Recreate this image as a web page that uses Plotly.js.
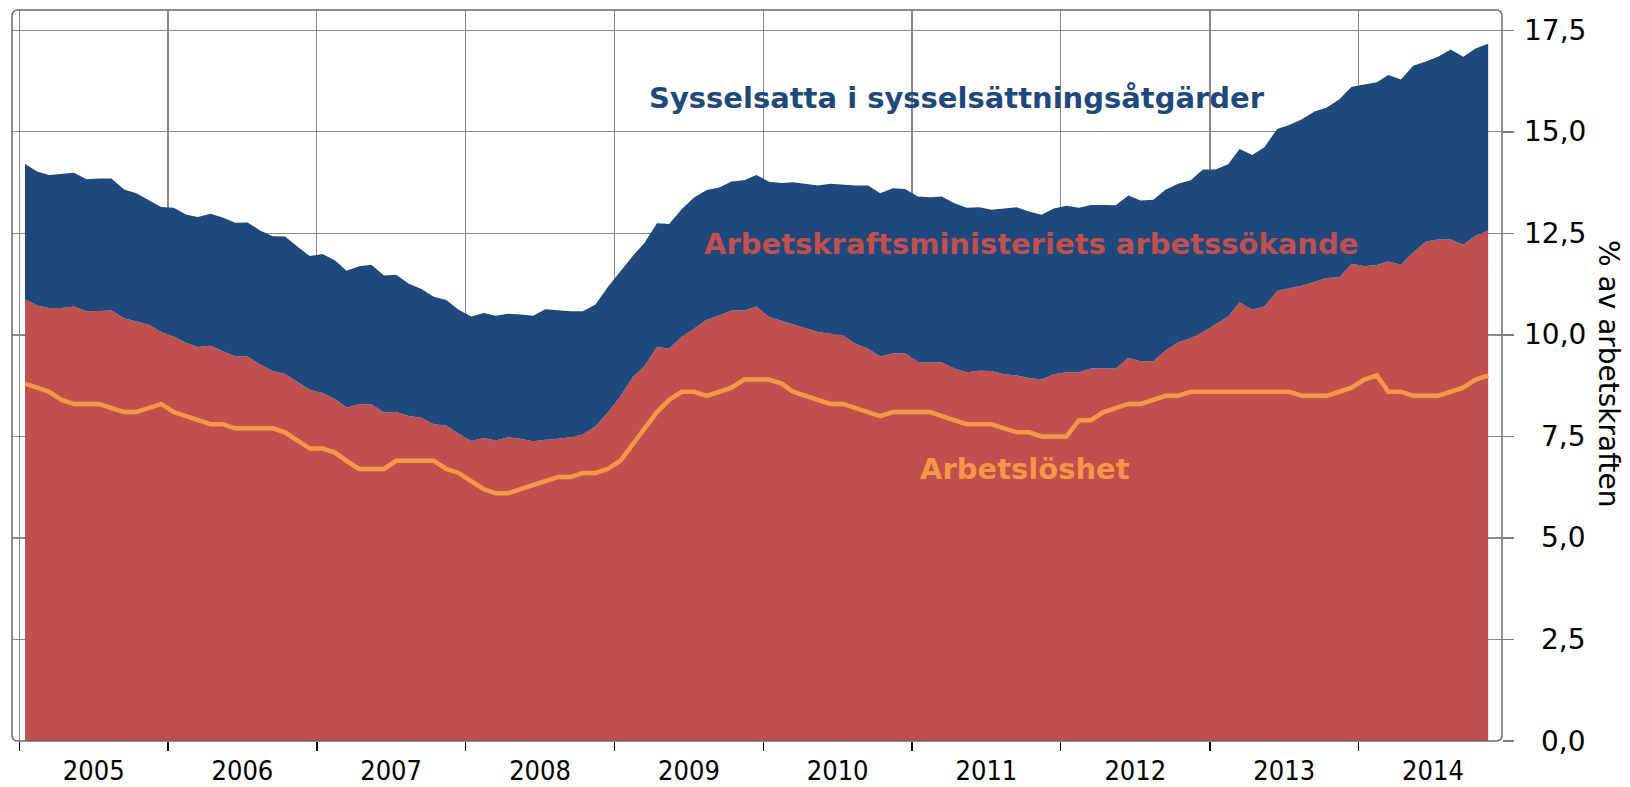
<!DOCTYPE html>
<html>
<head>
<meta charset="utf-8">
<script src="https://cdn.plot.ly/plotly-3.0.1.min.js"></script>
<style>
  html, body { margin: 0; padding: 0; background: #ffffff; }
  #chart { width: 1630px; height: 787px; }
</style>
</head>
<body>
<div id="chart"></div>
<script>
// Monthly observations, January 2005 - November 2014 (% of the labour force)
const startYear = 2005;

// Top of blue area: Arbetssökande + sysselsatta i sysselsättningsåtgärder
const sysselsatta = [
  14.21, 14.02, 13.94, 13.96, 13.99, 13.83, 13.85, 13.85, 13.58, 13.49, 13.32, 13.15,
  13.13, 12.96, 12.90, 12.98, 12.89, 12.76, 12.77, 12.57, 12.43, 12.42, 12.17, 11.94,
  11.99, 11.83, 11.58, 11.69, 11.73, 11.46, 11.48, 11.26, 11.13, 10.94, 10.86, 10.62,
  10.45, 10.54, 10.47, 10.52, 10.50, 10.47, 10.63, 10.60, 10.58, 10.58, 10.75, 11.17,
  11.55, 11.95, 12.26, 12.75, 12.73, 13.10, 13.38, 13.57, 13.63, 13.78, 13.81, 13.94,
  13.77, 13.74, 13.76, 13.72, 13.68, 13.72, 13.70, 13.68, 13.68, 13.49, 13.61, 13.59,
  13.41, 13.39, 13.41, 13.24, 13.13, 13.14, 13.08, 13.11, 13.14, 13.04, 12.96, 13.11,
  13.18, 13.13, 13.20, 13.20, 13.19, 13.43, 13.31, 13.33, 13.58, 13.72, 13.81, 14.07,
  14.07, 14.20, 14.58, 14.43, 14.62, 15.07, 15.17, 15.31, 15.50, 15.60, 15.80, 16.11,
  16.17, 16.22, 16.40, 16.29, 16.63, 16.73, 16.85, 17.03, 16.85, 17.05, 17.17
];

// Top of red area: Arbetskraftsministeriets arbetssökande
const arbetssokande = [
  10.87, 10.72, 10.66, 10.66, 10.70, 10.58, 10.59, 10.60, 10.41, 10.33, 10.25, 10.07,
   9.96,  9.80,  9.70,  9.73,  9.60,  9.47,  9.47,  9.27,  9.11,  9.04,  8.84,  8.65,
   8.57,  8.42,  8.21,  8.29,  8.29,  8.09,  8.10,  8.00,  7.96,  7.80,  7.77,  7.57,
   7.39,  7.46,  7.40,  7.48,  7.44,  7.38,  7.42,  7.44,  7.48,  7.55,  7.75,  8.08,
   8.48,  8.96,  9.23,  9.70,  9.66,  9.96, 10.15, 10.37, 10.48, 10.60, 10.60, 10.70,
  10.44, 10.34, 10.26, 10.15, 10.07, 10.03,  9.99,  9.78,  9.66,  9.47,  9.54,  9.55,
   9.33,  9.32,  9.32,  9.17,  9.08,  9.12,  9.11,  9.03,  9.00,  8.94,  8.90,  9.03,
   9.08,  9.08,  9.17,  9.18,  9.17,  9.43,  9.35,  9.35,  9.62,  9.82,  9.92, 10.07,
  10.27, 10.45, 10.80, 10.62, 10.70, 11.08, 11.15, 11.21, 11.31, 11.40, 11.42, 11.75,
  11.69, 11.72, 11.81, 11.73, 12.03, 12.30, 12.35, 12.35, 12.22, 12.44, 12.57
];

// Orange line: Arbetslöshet
const arbetsloshet = [
  8.8, 8.7, 8.6, 8.4, 8.3, 8.3, 8.3, 8.2, 8.1, 8.1, 8.2, 8.3,
  8.1, 8.0, 7.9, 7.8, 7.8, 7.7, 7.7, 7.7, 7.7, 7.6, 7.4, 7.2,
  7.2, 7.1, 6.9, 6.7, 6.7, 6.7, 6.9, 6.9, 6.9, 6.9, 6.7, 6.6,
  6.4, 6.2, 6.1, 6.1, 6.2, 6.3, 6.4, 6.5, 6.5, 6.6, 6.6, 6.7,
  6.9, 7.3, 7.7, 8.1, 8.4, 8.6, 8.6, 8.5, 8.6, 8.7, 8.9, 8.9,
  8.9, 8.8, 8.6, 8.5, 8.4, 8.3, 8.3, 8.2, 8.1, 8.0, 8.1, 8.1,
  8.1, 8.1, 8.0, 7.9, 7.8, 7.8, 7.8, 7.7, 7.6, 7.6, 7.5, 7.5,
  7.5, 7.9, 7.9, 8.1, 8.2, 8.3, 8.3, 8.4, 8.5, 8.5, 8.6, 8.6,
  8.6, 8.6, 8.6, 8.6, 8.6, 8.6, 8.6, 8.5, 8.5, 8.5, 8.6, 8.7,
  8.9, 9.0, 8.6, 8.6, 8.5, 8.5, 8.5, 8.6, 8.7, 8.9, 9.0
];

const yTicks = [0, 2.5, 5, 7.5, 10, 12.5, 15, 17.5];
const yTitle = '% av arbetskraften';
const labelSysselsatta = 'Sysselsatta i sysselsättningsåtgärder';
const labelArbetssokande = 'Arbetskraftsministeriets arbetssökande';
const labelArbetsloshet = 'Arbetslöshet';

// Mid-month dates for each observation
const months = arbetssokande.map((_, i) => {
  const y = startYear + Math.floor(i / 12);
  const m = (i % 12) + 1;
  return y + '-' + String(m).padStart(2, '0') + '-15';
});

const BLUE = '#1F497D', RED = '#C0504D', ORANGE = '#F79646';

const traces = [
  { x: months, y: arbetssokande, type: 'scatter', mode: 'lines', fill: 'tozeroy',
    fillcolor: RED, line: { width: 0, color: RED }, hoverinfo: 'skip', showlegend: false },
  { x: months, y: sysselsatta, type: 'scatter', mode: 'lines', fill: 'tonexty',
    fillcolor: BLUE, line: { width: 0, color: BLUE }, hoverinfo: 'skip', showlegend: false },
  { x: months, y: arbetsloshet, type: 'scatter', mode: 'lines',
    line: { width: 4.5, color: ORANGE }, hoverinfo: 'skip', showlegend: false }
];

const W = 1630, H = 787;
const M = { l: 12, r: 128, t: 10, b: 46 };
const pw = W - M.l - M.r, ph = H - M.t - M.b;
const rad = 6, rx = rad / pw, ry = rad / ph;
const framePath =
  `M ${rx},0 L ${1 - rx},0 Q 1,0 1,${ry} L 1,${1 - ry} Q 1,1 ${1 - rx},1 ` +
  `L ${rx},1 Q 0,1 0,${1 - ry} L 0,${ry} Q 0,0 ${rx},0 Z`;

const annotations = [];
yTicks.forEach(v => {
  annotations.push({
    xref: 'paper', yref: 'y', x: (1588 - M.l) / pw, y: v,
    xanchor: 'right', yanchor: 'middle', showarrow: false,
    text: v.toFixed(1).replace('.', ','),
    font: { family: 'DejaVu Sans', size: 28, color: '#000000' }
  });
});
annotations.push(
  { xref: 'paper', yref: 'paper', x: (957 - M.l) / pw, y: (H - M.b - 98) / ph,
    xanchor: 'center', yanchor: 'middle', showarrow: false, text: labelSysselsatta,
    font: { family: 'DejaVu Sans', size: 29, color: BLUE, weight: 700 } },
  { xref: 'paper', yref: 'paper', x: (1031 - M.l) / pw, y: (H - M.b - 244) / ph,
    xanchor: 'center', yanchor: 'middle', showarrow: false, text: labelArbetssokande,
    font: { family: 'DejaVu Sans', size: 29, color: RED, weight: 700 } },
  { xref: 'paper', yref: 'paper', x: (1025 - M.l) / pw, y: (H - M.b - 469) / ph,
    xanchor: 'center', yanchor: 'middle', showarrow: false, text: labelArbetsloshet,
    font: { family: 'DejaVu Sans', size: 29, color: ORANGE, weight: 700 } },
  { xref: 'paper', yref: 'paper', x: (1609 - M.l) / pw, y: (H - M.b - 374) / ph,
    xanchor: 'center', yanchor: 'middle', showarrow: false, text: yTitle, textangle: 90,
    font: { family: 'DejaVu Sans', size: 28, color: '#000000' } }
);

const layout = {
  width: W, height: H,
  margin: M,
  paper_bgcolor: '#ffffff', plot_bgcolor: '#ffffff',
  showlegend: false,
  xaxis: {
    type: 'date',
    range: ['2004-12-14', '2014-12-19'],
    dtick: 'M12', tick0: '2005-01-01',
    ticklabelmode: 'period', tickformat: '%Y',
    ticks: 'outside', ticklen: 9, tickwidth: 1.5, tickcolor: '#000000',
    ticklabelstandoff: -3,
    showgrid: true, gridcolor: '#8a8a8a', gridwidth: 1.3,
    showline: false, zeroline: false,
    tickfont: { family: 'DejaVu Sans Condensed', size: 27, color: '#000000' },
    fixedrange: true
  },
  yaxis: {
    side: 'right', range: [0, 18],
    tickvals: yTicks, showticklabels: false,
    ticks: 'outside', ticklen: 11, tickwidth: 1.5, tickcolor: '#7f7f7f',
    showgrid: true, gridcolor: '#8a8a8a', gridwidth: 1.3,
    showline: false, zeroline: false, fixedrange: true
  },
  shapes: [
    { type: 'path', xref: 'paper', yref: 'paper', path: framePath,
      line: { color: '#6a6a6a', width: 1.5 }, fillcolor: 'rgba(0,0,0,0)', layer: 'above' }
  ],
  annotations: annotations
};

Plotly.newPlot('chart', traces, layout, { staticPlot: true, displayModeBar: false });
</script>
</body>
</html>
